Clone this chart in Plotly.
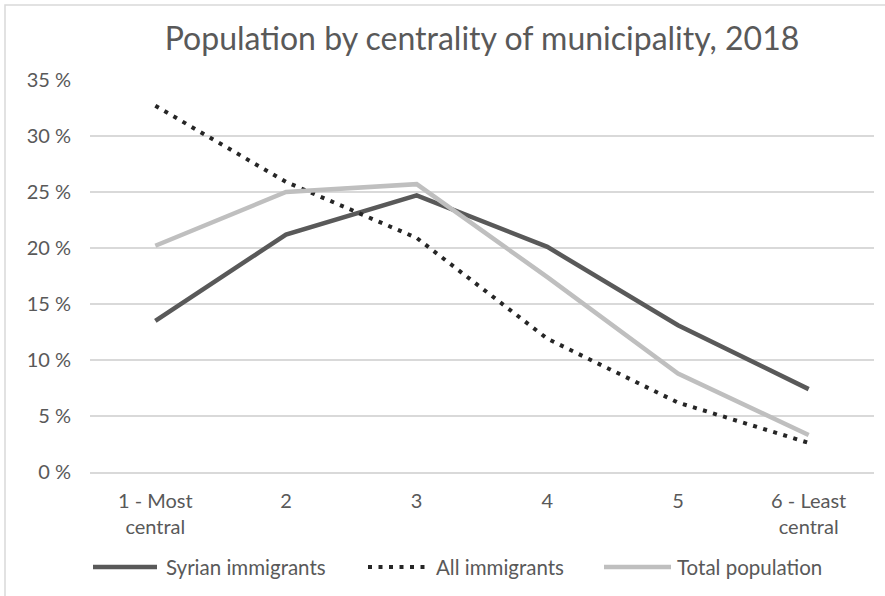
import plotly.graph_objects as go

categories = ["1 - Most<br>central", "2", "3", "4", "5", "6 - Least<br>central"]
syrian = [13.5, 21.2, 24.7, 20.1, 13.1, 7.4]
all_imm = [32.7, 25.9, 20.9, 11.9, 6.2, 2.6]
total_pop = [20.2, 25.0, 25.7, 17.4, 8.8, 3.3]
y_ticks = [0, 5, 10, 15, 20, 25, 30, 35]
y_ticktext = [f"{v} %" for v in y_ticks]
series_names = ["Syrian immigrants", "All immigrants", "Total population"]

FONT = "Lato, Open Sans, sans-serif"
TXT = "#595959"
x = list(range(len(categories)))

styles = [
    dict(color="#595959", width=4.5),
    dict(color="#262626", width=4, dash="4px,6.5px"),
    dict(color="#bfbfbf", width=4.5),
]

fig = go.Figure()
for name, vals, st in zip(series_names, [syrian, all_imm, total_pop], styles):
    fig.add_trace(go.Scatter(x=x, y=vals, mode="lines", name=name,
                             line=st, showlegend=False))

W, H = 885, 596
L, R, T, B = 90, 11, 80, 124
pw, ph = W - L - R, H - T - B

def px2paper(px, py):
    return (px - L) / pw, (H - B - py) / ph

x0, y0 = px2paper(5, 5)
x1, y1 = px2paper(W + 20, H + 20)

shapes = [dict(type="rect", xref="paper", yref="paper",
               x0=x0, y0=y1, x1=x1, y1=y0,
               line=dict(color="#d9d9d9", width=1.5), layer="below")]
annotations = []

# legend (drawn manually to match long sample lines)
leg_y = 567
leg_items = [(93, 157, 164), (368, 430, 434), (604, 671, 675)]
for (lx0, lx1, tx), name, st in zip(leg_items, series_names, styles):
    ax0, ay = px2paper(lx0, leg_y)
    ax1, _ = px2paper(lx1, leg_y)
    shapes.append(dict(type="line", xref="paper", yref="paper",
                       x0=ax0, x1=ax1, y0=ay, y1=ay, line=st))
    tpx, _ = px2paper(tx, leg_y)
    annotations.append(dict(text=name, xref="paper", yref="paper",
                            x=tpx, y=ay, xanchor="left", yanchor="middle",
                            showarrow=False,
                            font=dict(family=FONT, size=20.5, color=TXT)))

fig.update_layout(
    width=W, height=H,
    margin=dict(l=L, r=R, t=T, b=B),
    paper_bgcolor="white", plot_bgcolor="white",
    font=dict(family=FONT, color=TXT, size=20),
    title=dict(text="Population by centrality of municipality, 2018",
               x=0.5, xref="paper", xanchor="center",
               y=1 - 39 / H, yanchor="middle",
               font=dict(size=32, color=TXT, family=FONT)),
    xaxis=dict(tickmode="array", tickvals=x, ticktext=categories,
               range=[-0.5, len(categories) - 0.5],
               showgrid=False, zeroline=False, showline=True,
               linecolor="#d9d9d9", linewidth=1.5, ticks="",
               ticklabelstandoff=10,
               tickfont=dict(size=20, color=TXT)),
    yaxis=dict(range=[0, 35], tickmode="array", tickvals=y_ticks, ticktext=y_ticktext,
               showgrid=True, gridcolor="#d9d9d9", gridwidth=1.5,
               zeroline=False, showline=False, ticks="",
               ticklabelstandoff=18,
               tickfont=dict(size=20, color=TXT)),
    showlegend=False,
    shapes=shapes,
    annotations=annotations,
)

fig.write_html("out.html")
